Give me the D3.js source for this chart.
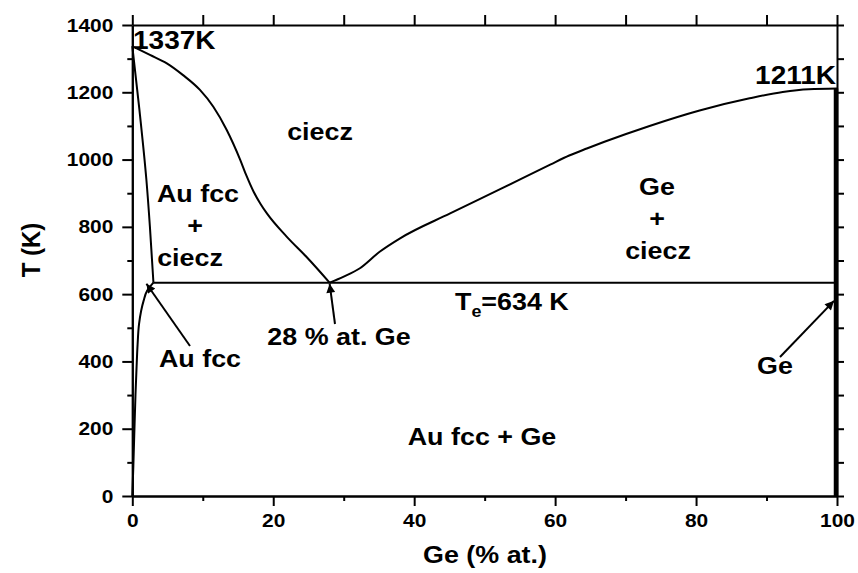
<!DOCTYPE html>
<html>
<head>
<meta charset="utf-8">
<script src="https://cdn.jsdelivr.net/npm/d3@7"></script>
<style>
  html, body { margin: 0; padding: 0; background: #fff; }
  svg { display: block; }
  text { font-family: "Liberation Sans", Arial, sans-serif; font-weight: bold; fill: #000; }
</style>
</head>
<body>
<svg id="chart" width="858" height="573"></svg>
<script>
// Au–Ge phase diagram: composition in at.% Ge, temperature in K
const liquidusAu = [[0,1337],[2.5,1311],[4.9,1286],[7.2,1251],[9.6,1207],[11.5,1157],[13.4,1088],[15.3,1000],[16.2,952],[17.2,905],[18.2,868],[19.1,840],[21.9,771],[24.7,711],[28,634]];
const liquidusGe = [[28,634],[30,652],[32.3,677],[35.1,726],[38,766],[45.1,840],[52.2,912],[59.3,985],[62,1012],[64.5,1033],[67,1053],[73.4,1100],[80.5,1146],[87.6,1182],[92.3,1201],[96,1209],[100,1211]];
const solidusAu = [[0,1337],[1.0,1150],[2.0,940],[2.5,800],[3.0,634]];
const solvusAu = [[0,0],[0.15,90],[0.45,300],[0.6,380],[0.75,450],[0.95,510],[1.25,550],[1.6,580],[2.1,610],[3.0,634]];
const eutectic = { x: 28, T: 634, xStart: 3.0, xEnd: 100 };
const geLine = [[100,0],[100,1211]];

const xTicks = [0, 20, 40, 60, 80, 100];
const xMinor = [10, 30, 50, 70, 90];
const yTicks = [0, 200, 400, 600, 800, 1000, 1200, 1400];
const yMinor = [100, 300, 500, 700, 900, 1100, 1300];

const STRETCH = 1.1; // glyphs are set slightly wide

const svg = d3.select("#chart");
const x = d3.scaleLinear().domain([0, 100]).range([132.3, 837]);
const y = d3.scaleLinear().domain([0, 1400]).range([496, 25]);

// arrowhead marker
svg.append("defs").append("marker")
  .attr("id", "arrow").attr("viewBox", "0 0 10 10")
  .attr("refX", 10).attr("refY", 5)
  .attr("markerWidth", 11).attr("markerHeight", 9)
  .attr("markerUnits", "userSpaceOnUse")
  .attr("orient", "auto")
  .append("path").attr("d", "M0,0 L10,5 L0,10 Z").attr("fill", "#000");

function styleAxis(g) {
  g.selectAll("path, line").attr("stroke", "#000").attr("stroke-width", 2);
  g.selectAll("text").style("font-size", "19px").style("font-weight", "bold")
    .style("font-family", "'Liberation Sans', Arial, sans-serif").attr("fill", "#000");
}

// minor ticks
svg.append("g").attr("transform", `translate(0,${y(0)})`)
  .call(d3.axisBottom(x).tickValues(xMinor).tickSize(5).tickSizeOuter(0).tickFormat(""))
  .call(styleAxis);
svg.append("g").attr("transform", `translate(${x(0)},0)`)
  .call(d3.axisLeft(y).tickValues(yMinor).tickSize(5).tickSizeOuter(0).tickFormat(""))
  .call(styleAxis);

// major ticks with labels
svg.append("g").attr("transform", `translate(0,${y(0)})`)
  .call(d3.axisBottom(x).tickValues(xTicks).tickSize(10).tickSizeOuter(0).tickPadding(8).tickFormat(d3.format("d")))
  .call(styleAxis)
  .selectAll(".tick text").attr("transform", `scale(${STRETCH},1)`);
svg.append("g").attr("transform", `translate(${x(0)},0)`)
  .call(d3.axisLeft(y).tickValues(yTicks).tickSize(10).tickSizeOuter(0).tickPadding(9).tickFormat(d3.format("d")))
  .call(styleAxis)
  .selectAll(".tick text").attr("x", -19 / STRETCH).attr("transform", `scale(${STRETCH},1)`);

// top and right frame axes
svg.append("g").attr("transform", `translate(0,${y(1400)})`)
  .call(d3.axisTop(x).tickValues(d3.range(0, 101, 10)).tickSize(10).tickSizeOuter(0).tickFormat(""))
  .call(styleAxis);
svg.append("g").attr("transform", `translate(${x(100)},0)`)
  .call(d3.axisRight(y).tickValues(d3.range(0, 1401, 100)).tickSize(7).tickSizeOuter(0).tickFormat(""))
  .call(styleAxis);

// phase boundaries
const lineX = d3.line().x(d => x(d[0])).y(d => y(d[1])).curve(d3.curveMonotoneX);
const lineY = d3.line().x(d => x(d[0])).y(d => y(d[1])).curve(d3.curveMonotoneY);
const plot = svg.append("g").attr("fill", "none").attr("stroke", "#000").attr("stroke-width", 2);
plot.append("path").attr("d", lineX(liquidusAu));
plot.append("path").attr("d", lineX(liquidusGe));
plot.append("path").attr("d", lineY(solidusAu));
plot.append("path").attr("d", lineY(solvusAu));
plot.append("line")
  .attr("x1", x(eutectic.xStart)).attr("x2", x(eutectic.xEnd))
  .attr("y1", y(eutectic.T)).attr("y2", y(eutectic.T));
plot.append("line").attr("stroke-width", 4.5)
  .attr("x1", x(geLine[0][0]) - 1).attr("x2", x(geLine[1][0]) - 1)
  .attr("y1", y(geLine[0][1])).attr("y2", y(geLine[1][1]));

// arrows pointing at the Au-rich solid limit, eutectic point and pure Ge
const arrows = [
  { from: [190, 346], to: [x(eutectic.xStart) - 7, y(eutectic.T) + 1] },
  { from: [335, 324], to: [x(eutectic.x), y(eutectic.T) + 1] },
  { from: [780, 357], to: [x(100) - 3, y(580)] }
];
svg.append("g").selectAll("line").data(arrows).join("line")
  .attr("x1", d => d.from[0]).attr("y1", d => d.from[1])
  .attr("x2", d => d.to[0]).attr("y2", d => d.to[1])
  .attr("stroke", "#000").attr("stroke-width", 2)
  .attr("marker-end", "url(#arrow)");

// labels
const labels = [
  { t: "1337K", x: 133, y: 49, a: "start", s: 25 },
  { t: "1211K", x: 836, y: 84, a: "end", s: 25 },
  { t: "ciecz", x: 320, y: 140, a: "middle", s: 24 },
  { t: "Au fcc", x: 198, y: 202, a: "middle", s: 24 },
  { t: "+", x: 195, y: 234, a: "middle", s: 24 },
  { t: "ciecz", x: 190, y: 266, a: "middle", s: 24 },
  { t: "Ge", x: 657, y: 195, a: "middle", s: 24 },
  { t: "+", x: 657, y: 227, a: "middle", s: 24 },
  { t: "ciecz", x: 658, y: 259, a: "middle", s: 24 },
  { t: "28 % at. Ge", x: 339, y: 345, a: "middle", s: 24 },
  { t: "Au fcc", x: 200, y: 367, a: "middle", s: 24 },
  { t: "Ge", x: 775, y: 374, a: "middle", s: 24 },
  { t: "Au fcc + Ge", x: 482, y: 445, a: "middle", s: 24 }
];
svg.append("g").selectAll("text").data(labels).join("text")
  .attr("transform", d => `translate(${d.x},${d.y}) scale(${STRETCH + 0.02},1)`)
  .attr("text-anchor", d => d.a)
  .style("font-size", d => d.s + "px")
  .text(d => d.t);

// eutectic temperature label with subscript
const te = svg.append("text").attr("transform", `translate(455,310) scale(${STRETCH + 0.02},1)`)
  .style("font-size", "24px");
te.append("tspan").text("T");
te.append("tspan").attr("dy", 7).style("font-size", "16px").text("e");
te.append("tspan").attr("dy", -7).text("=" + eutectic.T + " K");

// axis titles
svg.append("text").attr("transform", `translate(485,563) scale(${STRETCH + 0.02},1)`).attr("text-anchor", "middle")
  .style("font-size", "24px").text("Ge (% at.)");
svg.append("text").attr("transform", `translate(40,250) rotate(-90) scale(1,${STRETCH})`).attr("text-anchor", "middle")
  .style("font-size", "24px").text("T (K)");
</script>
</body>
</html>
